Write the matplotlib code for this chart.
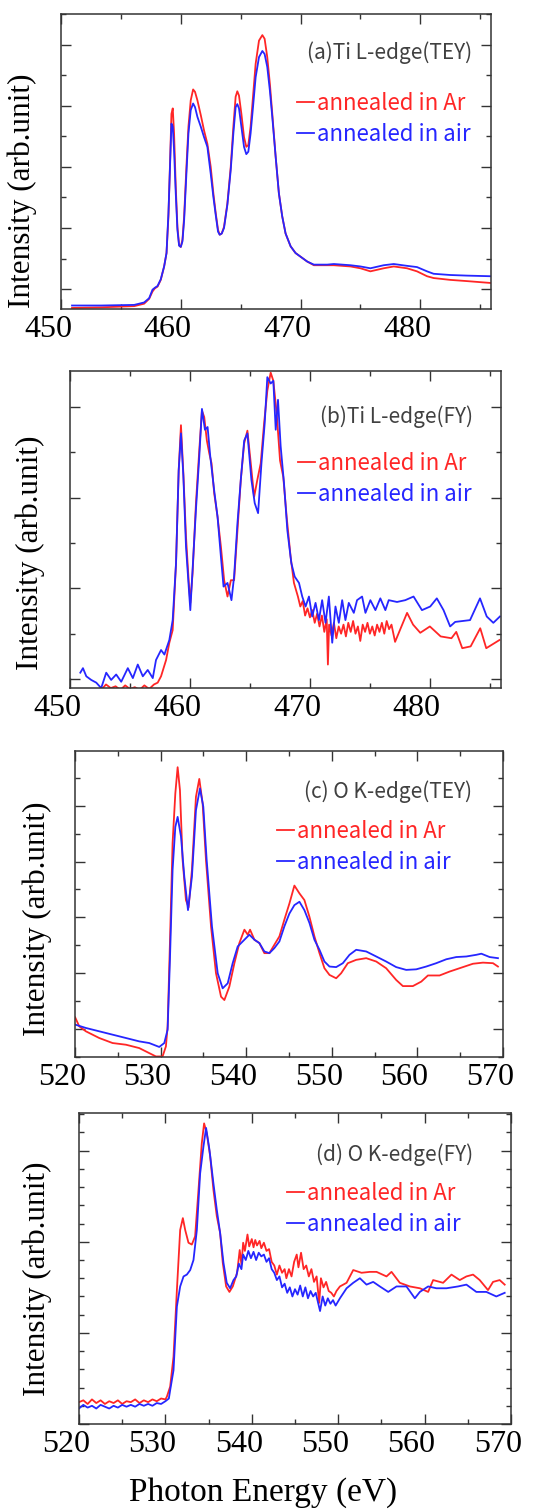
import matplotlib.pyplot as plt
from matplotlib.ticker import MultipleLocator
import matplotlib.transforms as mtransforms

W, H = 548, 1512
RED = '#ff2626'
BLUE = '#2626ff'

# (a) Ti L-edge, TEY  (both spectra on the same energy grid)
a_e = [450.92, 453.33, 456.11, 456.94, 457.36, 457.64, 457.83, 458.06, 458.33, 458.61,
       458.81, 458.97, 459.11, 459.22, 459.33, 459.44, 459.58, 459.72, 459.86, 460.0,
       460.14, 460.28, 460.47, 460.64, 460.83, 461.03, 461.19, 461.39, 461.67, 461.94,
       462.22, 462.5, 462.72, 462.92, 463.11, 463.25, 463.42, 463.61, 463.89, 464.17,
       464.39, 464.58, 464.72, 464.86, 465.06, 465.28, 465.47, 465.64, 465.83, 466.03,
       466.25, 466.53, 466.81, 467.0, 467.22, 467.44, 467.64, 467.92, 468.19, 468.47,
       468.75, 469.17, 469.58, 470.0, 470.56, 471.11, 472.22, 472.78, 474.17, 475.0,
       475.83, 476.94, 477.78, 478.89, 479.72, 480.56, 481.11, 482.5, 483.89, 485.83]
a_ar_i = [-0.31, -0.30, -0.28, -0.24, -0.16, -0.04, 0.01, 0.04, 0.15, 0.37,
          0.59, 1.19, 2.11, 2.87, 2.96, 2.55, 1.68, 1.02, 0.72, 0.69,
          0.81, 1.19, 2.0, 2.66, 3.09, 3.27, 3.23, 3.09, 2.85, 2.60,
          2.38, 2.0, 1.57, 1.24, 0.97, 0.89, 0.91, 1.02, 1.40, 2.0,
          2.66, 3.15, 3.24, 3.17, 2.87, 2.49, 2.33, 2.36, 2.66, 3.15,
          3.69, 4.07, 4.16, 4.10, 3.80, 3.36, 2.87, 2.17, 1.57, 1.19,
          0.91, 0.70, 0.59, 0.53, 0.45, 0.39, 0.39, 0.39, 0.37, 0.34,
          0.29, 0.34, 0.37, 0.34, 0.29, 0.21, 0.18, 0.15, 0.13, 0.10]
a_air_i = [-0.27, -0.27, -0.26, -0.22, -0.15, -0.01, 0.02, 0.05, 0.16, 0.37,
           0.59, 1.24, 2.06, 2.71, 2.66, 2.27, 1.57, 0.97, 0.71, 0.69,
           0.78, 1.13, 1.89, 2.55, 2.93, 3.04, 2.98, 2.82, 2.66, 2.49,
           2.33, 1.89, 1.51, 1.21, 0.94, 0.89, 0.91, 1.0, 1.38, 1.95,
           2.55, 2.98, 3.03, 2.96, 2.66, 2.33, 2.21, 2.25, 2.55, 2.98,
           3.47, 3.80, 3.90, 3.85, 3.64, 3.25, 2.82, 2.17, 1.57, 1.19,
           0.91, 0.70, 0.59, 0.53, 0.45, 0.40, 0.40, 0.41, 0.39, 0.37,
           0.34, 0.39, 0.41, 0.38, 0.36, 0.29, 0.25, 0.23, 0.22, 0.21]

# (b) Ti L-edge, FY
b_ar_e = [452.6, 453.0, 453.4, 453.8, 454.2, 454.6, 455.0, 455.4, 455.8, 456.2, 456.6, 457.0,
          457.31, 457.59, 458.01, 458.28, 458.56, 458.84, 459.06, 459.25, 459.45, 459.67, 459.89,
          460.03, 460.22, 460.5, 460.78, 461.0, 461.19, 461.41, 461.61, 461.8, 462.02, 462.3,
          462.58, 462.85, 463.13, 463.41, 463.68, 463.96, 464.24, 464.52, 464.79, 465.07, 465.35,
          465.62, 465.9, 466.18, 466.45, 466.73, 466.95, 467.23, 467.51, 467.78, 468.06, 468.39,
          468.67, 469.0, 469.2, 469.4, 469.6, 469.8, 470.0, 470.2, 470.4, 470.6, 470.8, 471.0,
          471.2, 471.4, 471.5, 471.6, 471.8, 472.0, 472.2, 472.4, 472.6, 472.8, 473.0, 473.2,
          473.4, 473.6, 473.8, 474.0, 474.2, 474.4, 474.6, 474.8, 475.0, 475.2, 475.4, 475.6,
          475.8, 476.0, 476.2, 476.4, 476.6, 476.8, 477.1, 478.1, 478.6, 479.2, 480.0, 480.9,
          481.8, 482.2, 482.7, 483.4, 484.2, 484.7, 485.8]
b_ar_i = [-0.12, -0.06, -0.1, -0.08, -0.12, -0.07, -0.11, -0.09, -0.12, -0.07, -0.11, -0.06,
          -0.04, 0.03, 0.21, 0.4, 0.54, 1.28, 2.3, 2.8, 2.27, 1.57, 1.09,
          0.84, 1.17, 1.94, 2.53, 2.96, 2.89, 2.63, 2.49, 2.38, 2.05, 1.79,
          1.46, 1.09, 0.91, 1.09, 1.09, 1.64, 2.2, 2.6, 2.74, 2.38, 2.01,
          2.2, 2.38, 2.82, 3.18, 3.38, 3.29, 2.93, 2.41, 2.23, 1.79, 1.35,
          1.06, 0.91, 0.8, 0.86, 0.7, 0.78, 0.68, 0.76, 0.62, 0.72, 0.58, 0.7,
          0.52, 0.66, 0.16, 0.6, 0.48, 0.62, 0.45, 0.58, 0.5, 0.6, 0.47, 0.62,
          0.52, 0.64, 0.5, 0.58, 0.42, 0.6, 0.52, 0.62, 0.5, 0.58, 0.48, 0.6,
          0.52, 0.62, 0.5, 0.64, 0.55, 0.6, 0.41, 0.73, 0.6, 0.51, 0.58, 0.47,
          0.45, 0.52, 0.34, 0.36, 0.56, 0.34, 0.43]
b_air_e = [450.86, 451.08, 451.36, 451.77, 452.19, 452.6, 453.02, 453.43, 453.85, 454.27, 454.82,
           455.24, 455.65, 456.07, 456.48, 456.9, 457.17, 457.59, 457.87, 458.28, 458.56, 458.84,
           459.06, 459.25, 459.45, 459.67, 460.03, 460.22, 460.5, 460.78, 461.0, 461.25, 461.47,
           461.69, 462.02, 462.3, 462.58, 462.8, 463.13, 463.46, 463.68, 463.96, 464.24, 464.52,
           464.79, 465.12, 465.4, 465.68, 465.96, 466.23, 466.45, 466.73, 466.95, 467.15, 467.34,
           467.56, 467.84, 468.12, 468.45, 468.73, 469.09, 469.36, 469.64, 469.92, 470.19, 470.47,
           470.75, 471.02, 471.3, 471.58, 471.86, 472.13, 472.41, 472.69, 472.96, 473.24, 473.66,
           473.93, 474.35, 474.63, 475.04, 475.46, 475.87, 476.29, 476.57, 477.26, 477.95, 478.64,
           479.34, 480.03, 480.58, 481.14, 481.69, 482.11, 483.35, 484.18, 484.74, 485.29, 485.84]
b_air_i = [0.07, 0.12, 0.03, -0.01, -0.04, -0.1, 0.07, -0.01, 0.05, -0.03, 0.12,
           0.01, 0.16, 0.03, 0.1, 0.01, 0.21, 0.32, 0.27, 0.43, 0.65, 1.28,
           2.3, 2.71, 2.24, 1.46, 0.76, 1.21, 1.87, 2.46, 2.98, 2.75, 2.78,
           2.46, 2.08, 1.79, 1.35, 1.02, 1.06, 0.87, 1.13, 1.72, 2.2, 2.63,
           2.71, 2.2, 1.94, 1.83, 2.38, 2.82, 3.33, 3.26, 3.29, 2.75, 3.08,
           2.57, 2.16, 1.64, 1.28, 1.13, 1.06, 0.91, 0.8, 0.91, 0.69, 0.84,
           0.65, 0.87, 0.62, 0.91, 0.4, 0.8, 0.62, 0.87, 0.65, 0.84, 0.73,
           0.87, 0.91, 0.73, 0.87, 0.76, 0.89, 0.76, 0.87, 0.85, 0.87, 0.91,
           0.76, 0.8, 0.89, 0.76, 0.58, 0.63, 0.65, 0.89, 0.69, 0.62, 0.69]

# (c) O K-edge, TEY
c_ar_e = [520.02, 520.49, 521.27, 522.83, 524.39, 525.95, 527.5, 528.67, 529.45, 530.23, 530.62,
          530.82, 531.09, 531.4, 531.72, 531.99, 532.26, 532.57, 532.96, 533.27, 533.66, 534.13,
          534.52, 534.91, 535.3, 535.89, 536.47, 537.06, 537.45, 538.03, 538.62, 539.2, 539.79,
          540.18, 540.45, 540.96, 541.54, 542.12, 542.71, 543.29, 543.88, 544.46, 545.05, 545.63,
          546.22, 546.8, 547.39, 547.97, 548.56, 549.14, 549.73, 550.51, 551.09, 551.87, 552.85,
          554.02, 555.19, 556.35, 557.52, 558.3, 559.47, 560.45, 561.23, 562.59, 563.76, 564.93,
          566.49, 567.66, 568.83, 569.41]
c_ar_i = [0.21, 0.05, -0.04, -0.16, -0.25, -0.28, -0.34, -0.43, -0.49, -0.49, -0.31,
          0.05, 1.54, 3.33, 4.22, 4.69, 4.28, 3.03, 2.31, 2.18, 2.85, 4.16,
          4.48, 4.04, 3.03, 1.84, 1.0, 0.58, 0.52, 0.76, 1.18, 1.54, 1.78,
          1.69, 1.78, 1.6, 1.54, 1.36, 1.36, 1.51, 1.66, 1.96, 2.25, 2.57,
          2.43, 2.31, 2.01, 1.66, 1.36, 1.09, 0.97, 0.91, 1.0, 1.18, 1.24,
          1.27, 1.21, 1.09, 0.88, 0.77, 0.77, 0.85, 0.96, 0.96, 1.03, 1.09,
          1.17, 1.19, 1.18, 1.12]
c_air_e = [520.02, 521.27, 522.83, 524.39, 525.95, 527.5, 528.67, 529.84, 530.43, 530.82, 531.09,
           531.4, 531.72, 531.99, 532.38, 532.77, 533.2, 533.66, 534.13, 534.6, 534.99, 535.38,
           536.0, 536.67, 537.25, 537.84, 538.42, 539.01, 539.79, 540.37, 540.96, 541.54, 542.12,
           542.71, 543.29, 543.88, 544.46, 545.05, 545.63, 546.22, 546.8, 547.39, 547.97, 548.56,
           549.14, 549.73, 550.51, 551.29, 552.07, 552.85, 554.02, 555.19, 556.35, 557.52, 558.69,
           559.86, 561.03, 562.2, 563.37, 564.54, 565.71, 566.88, 567.47, 568.44, 569.41]
c_air_i = [0.08, 0.02, -0.04, -0.1, -0.16, -0.22, -0.25, -0.32, -0.25, -0.01, 1.24,
           2.85, 3.62, 3.8, 3.45, 2.73, 2.13, 2.73, 3.92, 4.31, 3.98, 3.03,
           1.84, 1.0, 0.73, 0.82, 1.18, 1.48, 1.6, 1.69, 1.6, 1.54, 1.39,
           1.36, 1.45, 1.57, 1.84, 2.07, 2.22, 2.28, 2.13, 1.9, 1.6, 1.42,
           1.21, 1.12, 1.11, 1.18, 1.33, 1.42, 1.39, 1.3, 1.21, 1.11, 1.06,
           1.07, 1.12, 1.18, 1.25, 1.29, 1.3, 1.33, 1.35, 1.29, 1.27]

# (d) O K-edge, FY
d_ar_e = [520.0, 520.5, 521.0, 521.5, 522.0, 522.5, 523.0, 523.5, 524.0, 524.5, 525.0, 525.5,
          526.0, 526.5, 527.0, 527.5, 528.0, 528.5, 529.0, 529.5, 530.0, 530.17, 530.55, 530.94,
          531.33, 531.71, 532.02, 532.29, 532.67, 533.06, 533.44, 533.83, 534.21, 534.48, 534.79,
          535.18, 535.56, 535.95, 536.33, 536.64, 537.03, 537.41, 537.8, 538.3, 538.6, 538.8,
          539.0, 539.2, 539.5, 539.7, 540.0, 540.2, 540.4, 540.6, 540.9, 541.1, 541.4, 541.7,
          542.0, 542.3, 542.6, 542.9, 543.2, 543.5, 543.8, 544.0, 544.3, 544.6, 544.9, 545.2,
          545.4, 545.7, 546.0, 546.3, 546.6, 546.9, 547.2, 547.5, 547.8, 548.0, 548.3, 548.6,
          548.9, 549.2, 549.5, 549.8, 550.2, 550.97, 551.74, 552.7, 553.67, 554.44, 555.59,
          556.17, 557.13, 558.29, 559.45, 560.41, 560.99, 562.14, 563.11, 564.07, 564.84, 565.61,
          566.38, 567.34, 567.92, 568.69, 569.27]
d_ar_i = [0.24, 0.26, 0.22, 0.27, 0.23, 0.26, 0.22, 0.25, 0.23, 0.26, 0.22, 0.25,
          0.24, 0.27, 0.23, 0.26, 0.24, 0.27, 0.25, 0.28, 0.27, 0.3, 0.41, 0.74,
          1.47, 2.13, 2.26, 2.13, 1.99, 1.97, 2.06, 2.57, 3.08, 3.3, 3.19,
          2.94, 2.57, 2.28, 2.1, 1.77, 1.51, 1.45, 1.51, 1.66, 1.91, 1.75,
          1.99, 1.9, 2.08, 1.95, 2.03, 1.94, 2.02, 1.96, 2.01, 1.93, 1.99, 1.9,
          1.92, 1.78, 1.74, 1.64, 1.74, 1.66, 1.7, 1.6, 1.7, 1.62, 1.78, 1.86,
          1.72, 1.88, 1.7, 1.74, 1.62, 1.7, 1.56, 1.62, 1.33, 1.6, 1.5, 1.56,
          1.46, 1.44, 1.4, 1.46, 1.51, 1.55, 1.69, 1.66, 1.67, 1.67, 1.62,
          1.67, 1.55, 1.51, 1.49, 1.45, 1.58, 1.55, 1.64, 1.58, 1.62, 1.64,
          1.58, 1.47, 1.56, 1.58, 1.53]
d_air_e = [520.0, 520.5, 521.0, 521.5, 522.0, 522.5, 523.0, 523.5, 524.0, 524.5, 525.0, 525.5,
           526.0, 526.5, 527.0, 527.5, 528.0, 528.5, 529.0, 529.5, 530.0, 530.4, 530.55, 530.94,
           531.33, 531.71, 532.1, 532.48, 532.87, 533.25, 533.64, 534.02, 534.41, 534.71, 535.1,
           535.56, 535.95, 536.33, 536.72, 537.1, 537.49, 537.88, 538.2, 538.5, 538.8, 539.0,
           539.3, 539.6, 539.9, 540.2, 540.5, 540.8, 541.1, 541.4, 541.7, 542.0, 542.3, 542.6,
           542.9, 543.2, 543.5, 543.8, 544.1, 544.4, 544.7, 545.0, 545.3, 545.6, 545.9, 546.2,
           546.5, 546.8, 547.1, 547.4, 547.7, 547.9, 548.2, 548.5, 548.8, 549.1, 549.4, 549.7,
           550.2, 550.97, 551.74, 552.51, 553.28, 554.05, 554.82, 555.79, 556.75, 557.9, 558.87,
           559.45, 560.41, 561.37, 562.53, 563.87, 564.84, 565.99, 567.15, 568.3, 569.27]
d_air_i = [0.17, 0.21, 0.18, 0.2, 0.17, 0.21, 0.19, 0.17, 0.2, 0.18, 0.21, 0.19,
           0.21, 0.19, 0.22, 0.2, 0.22, 0.2, 0.23, 0.22, 0.25, 0.28, 0.37, 0.59,
           1.29, 1.51, 1.62, 1.64, 1.69, 1.8, 2.13, 2.75, 3.05, 3.25, 3.01,
           2.64, 2.35, 2.1, 1.77, 1.55, 1.49, 1.58, 1.62, 1.76, 1.7, 1.86,
           1.8, 1.9, 1.82, 1.89, 1.8, 1.88, 1.84, 1.86, 1.78, 1.82, 1.7, 1.66,
           1.58, 1.62, 1.5, 1.54, 1.44, 1.5, 1.4, 1.48, 1.42, 1.52, 1.4, 1.5,
           1.38, 1.46, 1.4, 1.44, 1.32, 1.24, 1.4, 1.3, 1.38, 1.32, 1.36, 1.3,
           1.38, 1.49, 1.55, 1.6, 1.53, 1.56, 1.51, 1.45, 1.51, 1.51, 1.38,
           1.45, 1.51, 1.49, 1.49, 1.51, 1.53, 1.45, 1.45, 1.4, 1.44]

labels = ['annealed in Ar', 'annealed in air']
titles = ['(a)Ti L-edge(TEY)', '(b)Ti L-edge(FY)', '(c) O K-edge(TEY)', '(d) O K-edge(FY)']

# pixel layout: axes box (left, top, right, bottom), title pos, legend pos, ylabel pos
panels = [
    dict(box=(61, 14, 491, 309), xlim=(450, 485.9), ylim=(-0.327, 4.506), ymin=0.5,
         data=(a_e, a_ar_i, a_e, a_air_i), title=(472, 53), leg=(297, 92), ylab=(22, 191)),
    dict(box=(70, 371, 501, 688), xlim=(450, 485.93), ylim=(-0.099, 3.398), ymin=0.5,
         data=(b_ar_e, b_ar_i, b_air_e, b_air_i), title=(473, 417), leg=(298, 452), ylab=(30, 553)),
    dict(box=(75, 751, 503, 1057), xlim=(520, 570), ylim=(-0.5, 4.98), ymin=0.5,
         data=(c_ar_e, c_ar_i, c_air_e, c_air_i), title=(472, 792), leg=(277, 820), ylab=(37, 919)),
    dict(box=(79, 1113, 511, 1424), xlim=(520, 570), ylim=(0, 3.414), ymin=0.2,
         data=(d_ar_e, d_ar_i, d_air_e, d_air_i), title=(473, 1155), leg=(287, 1182), ylab=(37, 1279)),
]

fig = plt.figure(figsize=(W / 100, H / 100), dpi=100)
shift = mtransforms.ScaledTranslation(-13 / 100, 0, fig.dpi_scale_trans)

for n, p in enumerate(panels):
    l, t, r, b = p['box']
    ax = fig.add_axes([l / W, 1 - b / H, (r - l) / W, (b - t) / H])
    e1, i1, e2, i2 = p['data']
    ax.plot(e1, i1, color=RED, lw=1.3, label=labels[0])
    ax.plot(e2, i2, color=BLUE, lw=1.3, label=labels[1])
    ax.set_xlim(*p['xlim'])
    ax.set_ylim(*p['ylim'])
    ax.xaxis.set_major_locator(MultipleLocator(10))
    ax.xaxis.set_minor_locator(MultipleLocator(5))
    ax.yaxis.set_major_locator(MultipleLocator(1))
    ax.yaxis.set_minor_locator(MultipleLocator(p['ymin']))
    ax.tick_params(which='both', direction='in', top=True, right=True, color='#333333', width=1)
    ax.tick_params(which='major', length=7)
    ax.tick_params(which='minor', length=3.5)
    ax.tick_params(axis='x', labelsize=23, pad=4)
    ax.set_yticklabels([])
    for lbl in ax.get_xticklabels():
        lbl.set_fontfamily('Liberation Serif')
        lbl.set_transform(lbl.get_transform() + shift)
    for s in ax.spines.values():
        s.set_color('#333333')
        s.set_linewidth(1.1)

    tx, ty = p['title']
    fig.text(tx / W, 1 - ty / H, titles[n], ha='right', va='center',
             fontsize=15, color='#404040', family='Noto Sans CJK JP')
    lx, ly = p['leg']
    ax.legend(loc='upper left', bbox_to_anchor=(lx / W, 1 - ly / H), bbox_transform=fig.transFigure,
              frameon=False, handlelength=0.75, handletextpad=0.15, labelspacing=0.35,
              borderpad=0, borderaxespad=0, labelcolor='linecolor',
              prop={'family': 'Noto Sans CJK JP', 'size': 16})
    yx, yy = p['ylab']
    fig.text(yx / W, 1 - yy / H, 'Intensity (arb.unit)', rotation=90, ha='center', va='center',
             fontsize=22.5, family='Liberation Serif')

fig.text(263 / W, 1 - 1493 / H, 'Photon Energy (eV)', ha='center', va='center',
         fontsize=24, family='Liberation Serif')

fig.savefig('out.png', dpi=100)
